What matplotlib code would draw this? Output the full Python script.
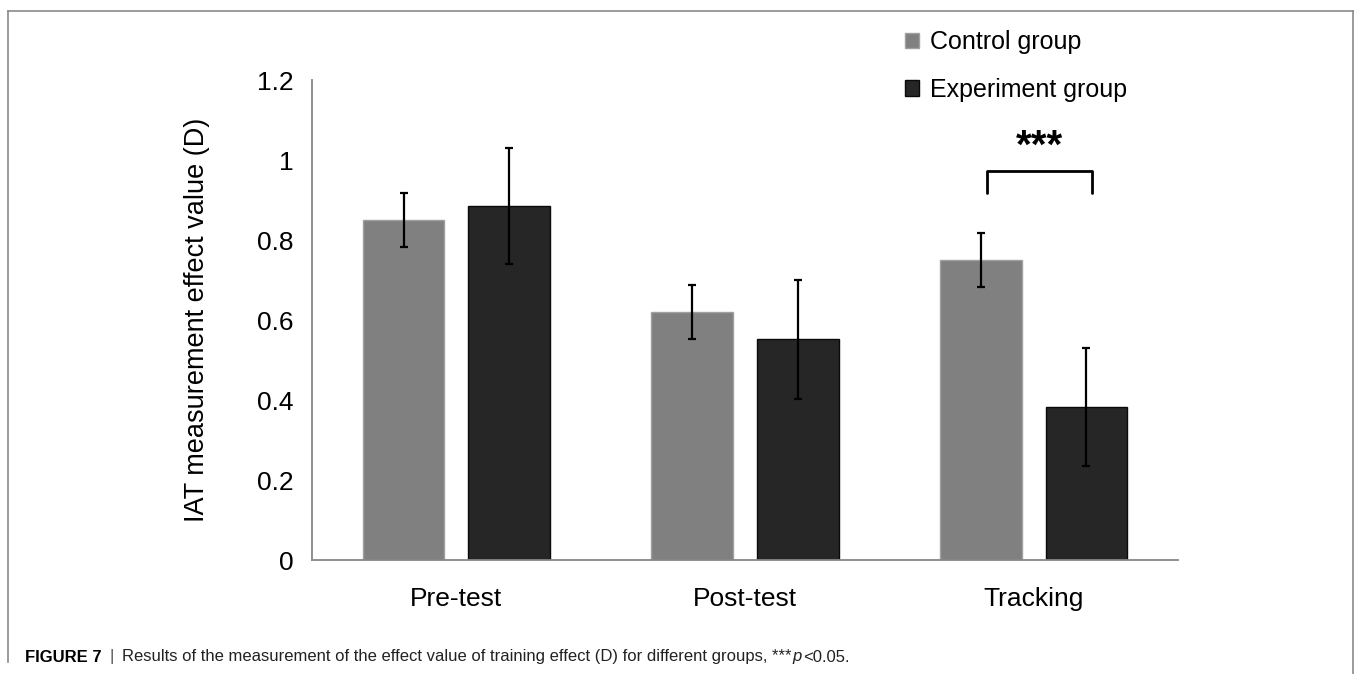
import matplotlib
matplotlib.use('Agg')
import matplotlib.pyplot as plt
import numpy as np
from matplotlib.patches import Patch
from matplotlib.lines import Line2D

# ---------------- data ----------------
categories = ['Pre-test', 'Post-test', 'Tracking']
series_names = ['Control group', 'Experiment group']
control_values = [0.85, 0.62, 0.75]
control_errors = [0.067, 0.068, 0.067]
experiment_values = [0.885, 0.552, 0.382]
experiment_errors = [0.146, 0.149, 0.148]
y_ticks = [0, 0.2, 0.4, 0.6, 0.8, 1.0, 1.2]
y_tick_labels = ['0', '0.2', '0.4', '0.6', '0.8', '1', '1.2']
y_label = 'IAT measurement effect value (D)'
sig_group = 2
sig_label = '***'
caption_head = 'FIGURE 7'
caption_body = 'Results of the measurement of the effect value of training effect (D) for different groups, ***'
caption_p = 'p'
caption_tail = '<0.05.'

# ---------------- style ----------------
plt.rcParams['font.family'] = ['Liberation Sans', 'DejaVu Sans']
W, H = 1354, 674
fig = plt.figure(figsize=(W / 100, H / 100), dpi=100)
ax = fig.add_axes([312 / W, 1 - 560 / H, 866 / W, 480 / H])

c_ctrl = '#808080'
c_exp = '#262626'
bar_w = 0.284
off = 0.183
x = np.arange(len(categories))

ax.bar(x - off, control_values, width=bar_w, color=c_ctrl, edgecolor='#a0a0a0', linewidth=1, zorder=2)
ax.bar(x + off, experiment_values, width=bar_w, color=c_exp, edgecolor='#0a0a0a', linewidth=1, zorder=2)
ax.errorbar(x - off, control_values, yerr=control_errors, fmt='none', ecolor='black',
            elinewidth=1.6, capsize=3, capthick=1.6, zorder=3)
ax.errorbar(x + off, experiment_values, yerr=experiment_errors, fmt='none', ecolor='black',
            elinewidth=1.6, capsize=3, capthick=1.6, zorder=3)

ax.set_xlim(-0.5, len(categories) - 0.5)
ax.set_ylim(0, 1.2)
ax.set_yticks(y_ticks)
ax.set_yticklabels(y_tick_labels, fontsize=19)
ax.set_xticks(x)
ax.set_xticklabels(categories, fontsize=19)
ax.tick_params(axis='y', length=0, pad=13)
ax.tick_params(axis='x', length=0, pad=19.5)
for s in ['top', 'right']:
    ax.spines[s].set_visible(False)
for s in ['left', 'bottom']:
    ax.spines[s].set_color('#878787')
    ax.spines[s].set_linewidth(1.3)

ax.set_ylabel(y_label, fontsize=19.5, va='center')
ax.yaxis.set_label_coords((197 - 312) / 866, 0.5)

# significance bracket
top = max(control_values[sig_group] + control_errors[sig_group],
          experiment_values[sig_group] + experiment_errors[sig_group]) + 0.155
bx0 = sig_group - off + 0.02
bx1 = sig_group + off + 0.02
ax.plot([bx0, bx0, bx1, bx1], [top - 0.055, top, top, top - 0.055], color='black',
        lw=2, solid_joinstyle='round', solid_capstyle='round', clip_on=False, zorder=4)
ax.text((bx0 + bx1) / 2, top + 0.06, sig_label, ha='center', va='center',
        fontsize=29, fontweight='bold', color='black')

# legend
handles = [Patch(facecolor=c_ctrl, edgecolor='#a0a0a0'), Patch(facecolor=c_exp, edgecolor='#0a0a0a')]
fig.legend(handles, series_names, loc='upper left', bbox_to_anchor=(905 / W, 1 - 30 / H),
           frameon=False, fontsize=18, handlelength=0.56, handleheight=0.56,
           handletextpad=0.45, labelspacing=0.95, borderpad=0, borderaxespad=0)

# figure border
bc = '#8a8a8a'
fig.add_artist(Line2D([8 / W, 1352.5 / W], [1 - 10.5 / H, 1 - 10.5 / H], color=bc, lw=1.2, transform=fig.transFigure))
fig.add_artist(Line2D([8 / W, 8 / W], [1 - 10.5 / H, 1 - 662 / H], color=bc, lw=1.2, transform=fig.transFigure))
fig.add_artist(Line2D([1352.5 / W, 1352.5 / W], [1 - 10.5 / H, 0], color=bc, lw=1.2, transform=fig.transFigure))

# caption
fig.canvas.draw()
r = fig.canvas.get_renderer()
cy = 1 - 657 / H
cfs = 12
xpos = 25
pieces = [
    (caption_head, dict(fontweight='bold', color='black'), 8),
    ('|', dict(color='#555555'), 8),
    (caption_body, dict(color='#222222'), 1),
    (caption_p, dict(style='italic', color='#222222'), 1),
    (caption_tail, dict(color='#222222'), 0),
]
for txt, kw, gap in pieces:
    t = fig.text(xpos / W, cy, txt, fontsize=cfs, va='center', ha='left', **kw)
    bb = t.get_window_extent(r)
    xpos = bb.x1 + gap

fig.savefig('out.png', dpi=100)
